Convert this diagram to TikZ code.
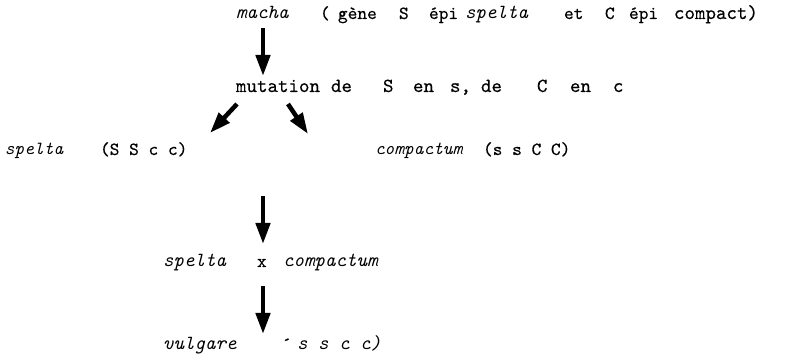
\documentclass[tikz,border=0pt]{standalone}
\usepackage{fontspec}
\usetikzlibrary{arrows.meta}
% typewriter faces, loaded by file so that every size scales the same design
\newfontfamily\typerm{lmmono10-regular}[Extension=.otf, FakeBold=0.4]
\newfontfamily\typeit{lmmono10-italic}[Extension=.otf]
\tikzset{
  word/.style={anchor=base west, inner sep=0pt, outer sep=0pt},
  rm/.style={word, font=\typerm\fontsize{18.5}{18.5}\selectfont},
  rmbig/.style={word, font=\typerm\fontsize{20}{20}\selectfont},
  itmid/.style={word, font=\typeit\fontsize{18.5}{18.5}\selectfont},
  itbig/.style={word, font=\typeit\fontsize{20}{20}\selectfont},
  bigarrow/.style={line width=4.5pt, -{Triangle[length=21pt,width=14pt]}}
}
\begin{document}
\begin{tikzpicture}[x=1pt,y=-1pt]
\useasboundingbox (0,0) rectangle (790,363);
% first line: the parent form
\node[itbig] (macha) at (236,19) {macha};
\node[rm] (par) at (320,19) {(};
\node[rm] (gene) at (338,19) {gène};
\node[rm] (gS) at (399,19) {S};
\node[rm] (epi1) at (429,19) {épi};
\node[itbig] (spelta1) at (465,19) {spelta};
\node[rm] (et) at (564,19) {et};
\node[rm] (gC) at (605,19) {C};
\node[rm] (epi2) at (629,19) {épi};
\node[rmbig] (compact) at (674,19) {compact)};
% mutation line
\node[rmbig] (mut) at (236,92) {mutation};
\node[rmbig] (de1) at (331,92) {de};
\node[rmbig] (mS) at (383,92) {S};
\node[rmbig] (en1) at (413,92) {en};
\node[rmbig] (ms) at (450,92) {s,};
\node[rmbig] (de2) at (481,92) {de};
\node[rmbig] (mC) at (537,92) {C};
\node[rmbig] (en2) at (570,92) {en};
\node[rmbig] (mc) at (613,92) {c};
% the two mutants
\node[itmid] (spelta2) at (5,155) {spelta};
\node[rm] (gspelta) at (100,155) {(S S c c)};
\node[itmid] (compactum1) at (375,155) {compactum};
\node[rm] (gcompactum) at (483,155) {(s s C C)};
% the cross
\node[itbig] (spelta3) at (163,267) {spelta};
\node[rm] (cross) at (257,267) {x};
\node[itbig] (compactum2) at (283,267) {compactum};
% the result
\node[itbig] (vulgare) at (163,350) {vulgare};
\node[rm] (acc) at (282,350) {\'{}};
\node[itbig] (gvulgare) at (297,350) {s s c c)};
% arrow end points
\coordinate (a1s) at (263,28);
\coordinate (a1e) at (263,76);
\coordinate (a2s) at (237,104);
\coordinate (a2e) at (210,133);
\coordinate (a3s) at (288,104);
\coordinate (a3e) at (308,134);
\coordinate (a4s) at (263,196);
\coordinate (a4e) at (263,244);
\coordinate (a5s) at (263,286);
\coordinate (a5e) at (263,334);
\draw[bigarrow] (a1s) -- (a1e);
\draw[bigarrow] (a2s) -- (a2e);
\draw[bigarrow] (a3s) -- (a3e);
\draw[bigarrow] (a4s) -- (a4e);
\draw[bigarrow] (a5s) -- (a5e);
\end{tikzpicture}
\end{document}
